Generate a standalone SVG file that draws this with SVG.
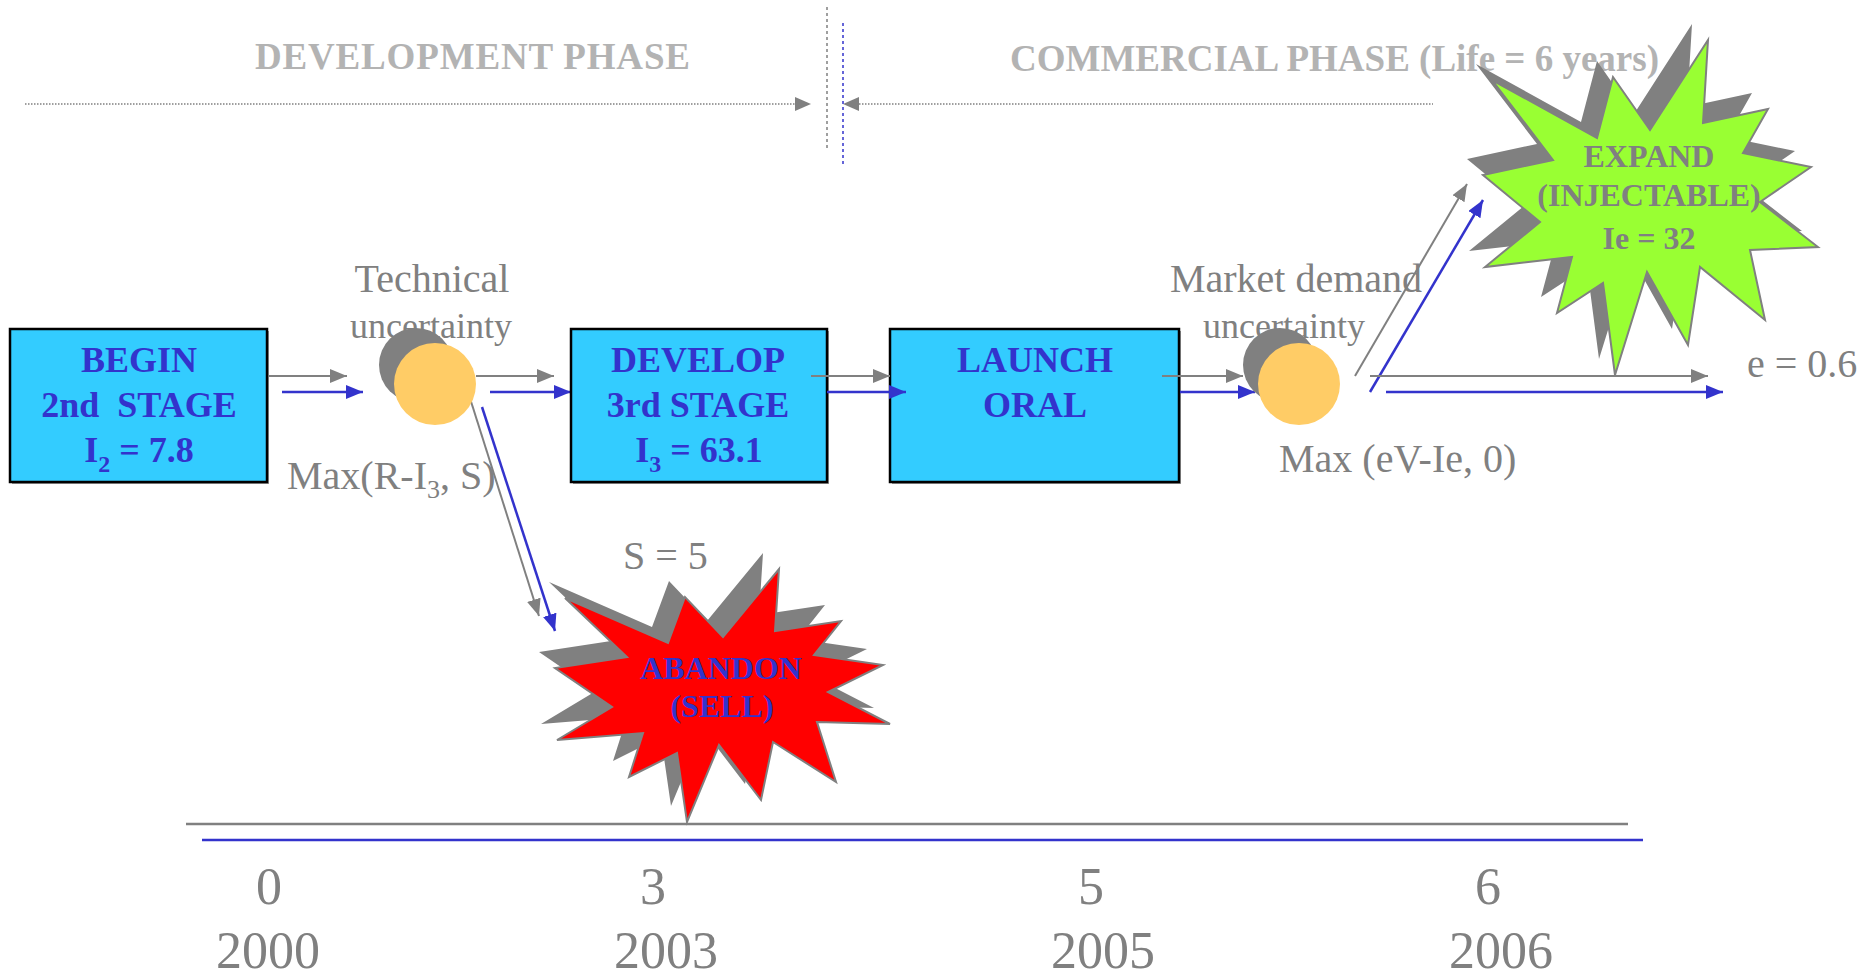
<svg xmlns="http://www.w3.org/2000/svg" width="1874" height="980" viewBox="0 0 1874 980">
<defs>
<style>
.phase{font-family:"Liberation Serif",serif;font-weight:bold;font-size:37px;fill:#b3b3b3}
.lbl{font-family:"Liberation Serif",serif;font-size:40px;fill:#808080}
.unc{font-family:"Liberation Serif",serif;font-size:36px;fill:#808080}
.box{fill:#33ccff;stroke:#000;stroke-width:2.5}
.boxsh{fill:#9a9a9a}
.bt{font-family:"Liberation Serif",serif;font-weight:bold;font-size:36px;fill:#3333cc;text-anchor:middle}
.st{font-family:"Liberation Serif",serif;font-weight:bold;font-size:32px;text-anchor:middle}
.g{stroke:#808080;stroke-width:2;fill:none}
.b{stroke:#3333cc;stroke-width:2.5;fill:none}
.ga{marker-end:url(#ahg)}
.ba{marker-end:url(#ahb)}
.axis{font-family:"Liberation Serif",serif;font-size:52px;fill:#808080;text-anchor:middle}
.shadow{fill:#808080}
</style>
<marker id="ahg" markerUnits="userSpaceOnUse" markerWidth="18" markerHeight="14" refX="17" refY="7" orient="auto" viewBox="0 0 18 14"><path d="M0,0 L17,7 L0,14 Z" fill="#808080"/></marker>
<marker id="ahb" markerUnits="userSpaceOnUse" markerWidth="18" markerHeight="14" refX="17" refY="7" orient="auto" viewBox="0 0 18 14"><path d="M0,0 L17,7 L0,14 Z" fill="#3333cc"/></marker>
<polygon id="starG" points="1492,80 1597,138 1613,77 1650,130 1708,40 1703,123 1768,109 1743,153 1811,167 1760,202 1818,247 1750,250 1765,320 1700,267 1688,345 1647,272 1615,375 1603,283 1557,313 1572,257 1485,267 1540,222 1483,175 1553,160"/>
<polygon id="starR" points="565,598 668,643 685,597 723,637 779,569 775,631 841,621 814,655 883,665 828,692 890,724 817,722 836,782 773,742 761,800 719,745 687,822 677,753 629,777 643,733 557,740 612,707 555,668 627,657"/>
</defs>

<g id="phases">
<text class="phase" x="255" y="69" textLength="435">DEVELOPMENT PHASE</text>
<text class="phase" x="1010" y="71">COMMERCIAL PHASE <tspan>(Life = 6 years)</tspan></text>
<line x1="25" y1="104" x2="795" y2="104" stroke="#808080" stroke-width="1.5" stroke-dasharray="1.5 1.5"/>
<path d="M795,97 L811,104 L795,111 Z" fill="#808080"/>
<line x1="859" y1="104" x2="1433" y2="104" stroke="#808080" stroke-width="1.5" stroke-dasharray="1.5 1.5"/>
<path d="M859,97 L843,104 L859,111 Z" fill="#808080"/>
<line x1="827" y1="7" x2="827" y2="149" stroke="#808080" stroke-width="1.5" stroke-dasharray="3 3"/>
<line x1="843" y1="23" x2="843" y2="164" stroke="#3333cc" stroke-width="1.5" stroke-dasharray="3 3"/>
</g>

<g id="labels">
<text class="lbl" x="432" y="292" text-anchor="middle">Technical</text>
<text class="unc" x="431" y="338" text-anchor="middle">uncertainty</text>
<text class="lbl" x="287" y="489" font-size="39">Max(R-I<tspan font-size="26" dy="9">3</tspan><tspan dy="-9">, S)</tspan></text>
<text class="lbl" x="623" y="569">S = 5</text>
<text class="lbl" x="1296" y="292" text-anchor="middle">Market demand</text>
<text class="unc" x="1284" y="338" text-anchor="middle">uncertainty</text>
<text class="lbl" x="1279" y="472">Max (eV-Ie, 0)</text>
<text class="lbl" x="1747" y="377">e = 0.6</text>
</g>

<g id="connectors">
<line class="g ga" x1="267" y1="376" x2="347" y2="376"/>
<line class="b ba" x1="282" y1="392" x2="363" y2="392"/>
<line class="g ga" x1="476" y1="376" x2="554" y2="376"/>
<line class="b ba" x1="490" y1="392" x2="571" y2="392"/>
<line class="g ga" x1="468" y1="392" x2="539" y2="616"/>
<line class="b ba" x1="482" y1="407" x2="555" y2="631"/>
</g>

<g id="begin">
<rect class="boxsh" x="12" y="331" width="257" height="153"/>
<rect class="box" x="10" y="329" width="257" height="153"/>
<text class="bt" x="139" y="372">BEGIN</text>
<text class="bt" x="139" y="417" xml:space="preserve">2nd  STAGE</text>
<text class="bt" x="139" y="462">I<tspan font-size="24" dy="10">2</tspan><tspan dy="-10"> = 7.8</tspan></text>
</g>

<g id="develop">
<rect class="boxsh" x="573" y="331" width="256" height="153"/>
<rect class="box" x="571" y="329" width="256" height="153"/>
<text class="bt" x="698" y="372">DEVELOP</text>
<text class="bt" x="698" y="417">3rd STAGE</text>
<text class="bt" x="699" y="462">I<tspan font-size="24" dy="10">3</tspan><tspan dy="-10"> = 63.1</tspan></text>
</g>

<g id="launch">
<rect class="boxsh" x="892" y="331" width="289" height="153"/>
<rect class="box" x="890" y="329" width="289" height="153"/>
<text class="bt" x="1035" y="372">LAUNCH</text>
<text class="bt" x="1035" y="417">ORAL</text>
</g>

<g id="connectors2">
<line class="g ga" x1="811" y1="376" x2="890" y2="376"/>
<line class="b ba" x1="827" y1="392" x2="906" y2="392"/>
<line class="g ga" x1="1162" y1="376" x2="1243" y2="376"/>
<line class="b ba" x1="1180" y1="392" x2="1255" y2="392"/>
<line class="g ga" x1="1355" y1="376" x2="1467" y2="184"/>
<line class="b ba" x1="1370" y1="392" x2="1483" y2="200"/>
<line class="g ga" x1="1370" y1="376" x2="1708" y2="376"/>
<line class="b ba" x1="1386" y1="392" x2="1723" y2="392"/>
</g>

<g id="tech-node">
<circle cx="416" cy="365" r="37" fill="#808080"/>
<circle cx="435" cy="384" r="41" fill="#ffcc66"/>
</g>

<g id="market-node">
<circle cx="1280" cy="365" r="37" fill="#808080"/>
<circle cx="1299" cy="384" r="41" fill="#ffcc66"/>
</g>

<g id="expand">
<use href="#starG" class="shadow" transform="translate(-16,-16)"/>
<use href="#starG" fill="#99ff33" stroke="#808080" stroke-width="2"/>
<text class="st" x="1649" y="167" fill="#808080">EXPAND</text>
<text class="st" x="1649" y="206" fill="#808080">(INJECTABLE)</text>
<text class="st" x="1649" y="249" fill="#808080">Ie = 32</text>
</g>

<g id="abandon">
<use href="#starR" class="shadow" transform="translate(-16,-16)"/>
<use href="#starR" fill="#ff0000" stroke="#808080" stroke-width="2"/>
<text class="st" x="721" y="679" fill="#3333cc">ABANDON</text>
<text class="st" x="722" y="717" fill="#3333cc">(SELL)</text>
</g>

<g id="timeline">
<line x1="186" y1="824" x2="1628" y2="824" stroke="#808080" stroke-width="2.5"/>
<line x1="202" y1="840" x2="1643" y2="840" stroke="#3333cc" stroke-width="2.5"/>
<text class="axis" x="269" y="904">0</text>
<text class="axis" x="653" y="904">3</text>
<text class="axis" x="1091" y="904">5</text>
<text class="axis" x="1488" y="904">6</text>
<text class="axis" x="268" y="968">2000</text>
<text class="axis" x="666" y="968">2003</text>
<text class="axis" x="1103" y="968">2005</text>
<text class="axis" x="1501" y="968">2006</text>
</g>
</svg>
